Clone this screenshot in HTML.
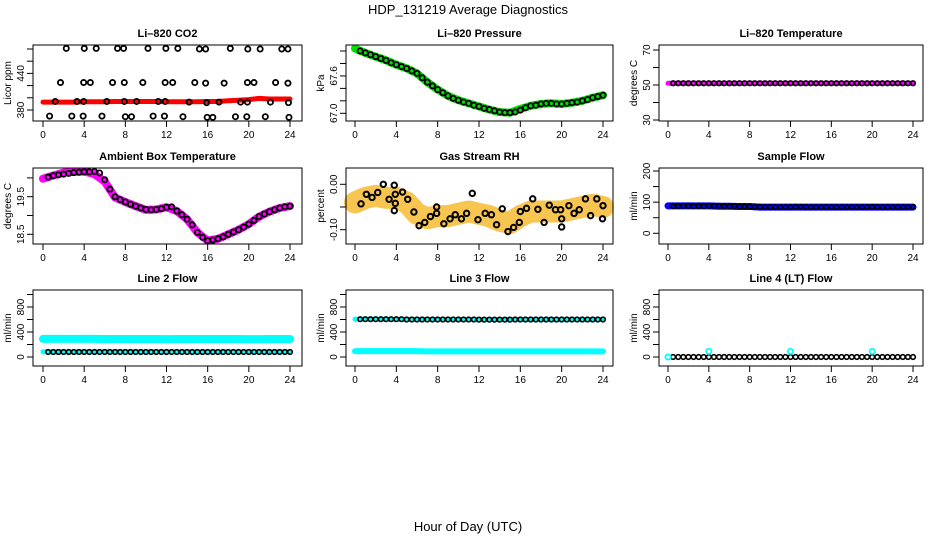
<!DOCTYPE html>
<html><head><meta charset="utf-8"><style>
html,body{margin:0;padding:0;background:#fff;}
svg{display:block;font-family:"Liberation Sans",Arial,sans-serif;}
</style></head><body>
<svg id="chart" width="936" height="540" viewBox="0 0 936 540">
<text x="468" y="14" font-size="13" text-anchor="middle">HDP_131219  Average Diagnostics</text>
<text x="468" y="531" font-size="13" text-anchor="middle">Hour of Day (UTC)</text>
<g id="plots"></g>
</svg>
<script>
// ---- data ----
const hourTicks = [0,4,8,12,16,20,24];
const hours = [0,1,2,3,4,5,6,7,8,9,10,11,12,13,14,15,16,17,18,19,20,21,22,23,24];
const halfHours = [0.5,1,1.5,2,2.5,3,3.5,4,4.5,5,5.5,6,6.5,7,7.5,8,8.5,9,9.5,10,10.5,11,11.5,12,12.5,13,13.5,14,14.5,15,15.5,16,16.5,17,17.5,18,18.5,19,19.5,20,20.5,21,21.5,22,22.5,23,23.5,24];

// CO2
const co2Red = [393,393,393,393,393.5,393.5,393.5,394,394,394,394,394,393.5,393.5,393.5,393.5,394,394,395,396,397,399,398,398,398];
const co2OutTimes = [2.26,4.01,5.17,7.24,7.83,10.2,11.94,13.1,15.2,15.8,18.2,19.9,21.1,23.2,23.8,
 1.7,3.95,4.6,6.76,7.9,9.7,11.87,12.6,14.75,15.8,17.6,19.86,20.5,22.6,23.8,
 1.19,3.3,3.95,6.2,7.9,9.1,11.2,11.87,14.2,15.9,17.1,19.2,19.86,22.1,23.85,
 0.64,2.8,3.9,5.73,8.0,8.6,10.7,11.8,13.6,15.95,16.5,18.7,19.8,21.6,23.9];
const co2OutValues = [481,481,481,481,481,481,481,481,480,480,481,480,480,480,480,
 425,425,425,425,425,425,425,425,425,424,424,425,425,425,424,
 394,394,394,394,394,394,394,394,393,392,393,393,393,393,392,
 370,370,370,370,369,369,370,370,369,368,368,369,369,369,368];
const co2Ticks = [380,400,420,440,460,480];
const co2Labels = ["380","440"];

// Pressure
const presGreen = [68.04,67.97,67.91,67.85,67.78,67.72,67.64,67.5,67.38,67.28,67.21,67.16,67.11,67.06,67.02,67.01,67.07,67.12,67.15,67.16,67.15,67.17,67.2,67.25,67.29];
const presBlack = [68.0,67.97,67.94,67.91,67.88,67.85,67.81,67.78,67.75,67.72,67.68,67.64,67.57,67.5,67.44,67.38,67.33,67.28,67.24,67.21,67.18,67.16,67.13,67.11,67.08,67.06,67.04,67.02,67.01,67.01,67.02,67.05,67.09,67.12,67.13,67.15,67.16,67.16,67.15,67.15,67.16,67.17,67.18,67.2,67.22,67.25,67.27,67.29];
const presTicks = [67.0,67.2,67.4,67.6,67.8,68.0];
const presLabels = ["67.0","67.6"];

// Li-820 temperature
const tempMagenta = [51,51,51,51,51,51,51,51,51,51,51,51,51,51,51,51,51,51,51,51,51,51,51,51,51];
const tempBlack = [51,51,51,51,51,51,51,51,51,51,51,51,51,51,51,51,51,51,51,51,51,51,51,51,51,51,51,51,51,51,51,51,51,51,51,51,51,51,51,51,51,51,51,51,51,51,51,51];
const tempTicks = [30,40,50,60,70];
const tempLabels = ["30","50","70"];

// Ambient box temperature
const ambMagenta = [19.98,20.06,20.14,20.16,20.17,20.1,19.9,19.48,19.36,19.25,19.15,19.16,19.22,19.12,18.9,18.55,18.33,18.38,18.5,18.62,18.77,18.97,19.1,19.2,19.25];
const ambBlack = [20.02,20.06,20.08,20.1,20.12,20.14,20.15,20.16,20.16,20.17,20.13,19.95,19.7,19.5,19.42,19.36,19.3,19.25,19.2,19.16,19.15,19.16,19.18,19.22,19.23,19.12,19.02,18.9,18.75,18.55,18.42,18.33,18.35,18.38,18.43,18.5,18.56,18.62,18.69,18.77,18.87,18.97,19.04,19.1,19.15,19.2,19.23,19.25];
const ambTicks = [18.5,19.0,19.5,20.0];
const ambLabels = ["18.5","19.5"];

// Gas stream RH
const rhBand = [-0.04,-0.03,-0.025,-0.03,-0.03,-0.04,-0.065,-0.075,-0.07,-0.07,-0.065,-0.06,-0.065,-0.07,-0.08,-0.085,-0.07,-0.06,-0.06,-0.06,-0.06,-0.055,-0.05,-0.045,-0.05];
const rhTimes = [0.58,1.1,1.65,2.2,2.74,3.3,3.8,3.9,3.9,3.8,4.6,5.1,5.7,6.2,6.75,7.3,7.9,7.9,8.6,9.2,9.7,10.3,10.8,11.35,11.9,12.6,13.2,13.7,14.25,14.8,15.35,15.9,16.0,16.6,17.2,17.7,18.3,18.8,19.4,19.9,20.0,20.0,20.7,21.2,21.7,22.3,22.8,23.4,24.0,23.95];
const rhValues = [-0.043,-0.022,-0.029,-0.018,0.0,-0.033,-0.002,-0.022,-0.042,-0.058,-0.017,-0.033,-0.061,-0.091,-0.084,-0.071,-0.05,-0.064,-0.087,-0.076,-0.067,-0.076,-0.064,-0.02,-0.078,-0.064,-0.067,-0.089,-0.054,-0.104,-0.095,-0.084,-0.06,-0.053,-0.032,-0.055,-0.084,-0.046,-0.056,-0.056,-0.076,-0.094,-0.047,-0.064,-0.056,-0.032,-0.069,-0.032,-0.047,-0.076];
const rhTicks = [-0.10,-0.05,0.00];
const rhLabels = ["-0.10","0.00"];

// Sample flow
const sfBlue = [88,88,88,88,88,87,87,86,86,84,84,84,84,84,84,84,84,84,84,84,84,84,84,84,84];
const sfBlack = [87,87,88,88,87,87,87,88,88,88,87,87,87,86,86,86,85,85,84,84,84,84,84,84,85,85,84,84,84,84,84,84,84,84,84,84,84,84,84,85,84,84,84,84,84,84,84,85];
const sfTicks = [0,50,100,150,200];
const sfLabels = ["0","100","200"];

// Flows (row 3)
const flowTicks = [0,200,400,600,800,1000];
const flowLabels = ["0","400","800"];
const l2CyanHigh = [290,290,290,290,290,290,288,288,288,288,288,288,286,288,288,288,288,288,288,288,286,286,288,288,288];
const l2CyanLow = [85,85,85,85,85,85,85,85,85,85,85,85,85,85,85,85,85,85,85,85,85,85,85,85,85];
const l2Black = [80,80,80,80,80,80,80,80,80,80,80,80,80,80,80,80,80,80,80,80,80,80,80,80,80,80,80,80,80,80,80,80,80,80,80,80,80,80,80,80,80,80,80,80,80,80,80,80];
const l3CyanHigh = [605,605,605,605,600,600,600,600,600,600,600,600,595,598,598,598,598,598,598,598,595,598,598,598,600];
const l3CyanLow = [95,95,95,95,95,95,95,90,90,90,90,90,90,90,90,90,90,90,90,90,90,90,90,90,90];
const l3Black = [605,605,605,605,605,605,605,605,605,600,600,600,600,600,600,600,600,600,600,600,600,600,600,598,598,598,598,598,598,598,600,600,600,600,600,600,600,600,600,600,600,600,600,600,600,600,600,600];
const l4Black = [0,0,0,0,0,0,0,0,0,0,0,0,0,0,0,0,0,0,0,0,0,0,0,0,0,0,0,0,0,0,0,0,0,0,0,0,0,0,0,0,0,0,0,0,0,0,0,0];
const l4CyanTimes = [0,4,12,20];
const l4CyanValues = [0,90,90,90];

// ---- layout ----
const NS = "http://www.w3.org/2000/svg";
const root = document.getElementById("plots");
const cols = [{x0:33,x1:302,h0:43,h24:290},{x0:346,x1:613,h0:355,h24:603},{x0:659,x1:923,h0:668,h24:913}];
const rows = [{y0:45,y1:121},{y0:168,y1:244},{y0:290,y1:366}];

function mk(tag, attrs, parent){const e=document.createElementNS(NS,tag);for(const k in attrs)e.setAttribute(k,attrs[k]);(parent||root).appendChild(e);return e;}

function makePanel(name,title,ylab,c,r,v1,p1,v2,p2,ticks,labels){
  const C=cols[c],R=rows[r];
  const g=mk("g",{});
  
  
  const xs=h=>C.h0+(h)*(C.h24-C.h0)/24;
  const ys=v=>p1+(v-v1)*(p2-p1)/(v2-v1);
  const t=mk("text",{x:(C.x0+C.x1)/2,y:R.y0-8,"font-size":11,"font-weight":"bold","text-anchor":"middle"},g);
  t.textContent=title;
  
  
  const yl=mk("text",{transform:`translate(${C.x0-22},${(R.y0+R.y1)/2}) rotate(-90)`,"font-size":10,"text-anchor":"middle"},g);
  yl.textContent=ylab;
  
  
  const plot=mk("g",{},g);
  
  
  const box=mk("rect",{x:C.x0,y:R.y0,width:C.x1-C.x0,height:R.y1-R.y0,fill:"none",stroke:"#000","stroke-width":1},g);
  
  
  const xa=mk("g",{},g);
  
  
  hourTicks.forEach(h=>{
    mk("line",{x1:xs(h),x2:xs(h),y1:R.y1,y2:R.y1+6,stroke:"#000"},xa);
    const tl=mk("text",{x:xs(h),y:R.y1+17,"font-size":10,"text-anchor":"middle"},xa);
    tl.textContent=h;
    
    
  });
  const ya=mk("g",{},g);
  
  
  ticks.forEach(v=>{mk("line",{x1:C.x0-6,x2:C.x0,y1:ys(v),y2:ys(v),stroke:"#000"},ya);});
  labels.forEach(v=>{
    const tl=mk("text",{transform:`translate(${C.x0-9},${ys(Number(v))}) rotate(-90)`,"font-size":10,"text-anchor":"middle"},ya);
    tl.textContent=v;
    
    
  });
  return {xs,ys,plot};
}
function band(P,times,vals,color,w,name){
  const d=times.map((h,i)=>(i?"L":"M")+P.xs(h).toFixed(1)+" "+P.ys(vals[i]).toFixed(1)).join(" ");
  const p=mk("path",{d,fill:"none",stroke:color,"stroke-width":w,"stroke-linejoin":"round","stroke-linecap":"round"},P.plot);
  
  
}
function pts(P,times,vals,color,name,rad,sw){
  times.forEach((h,i)=>{
    const c=mk("circle",{cx:P.xs(h),cy:P.ys(vals[i]),r:rad||2.6,fill:"none",stroke:color,"stroke-width":sw||1.8},P.plot);
    
    
  });
}

let P;
P=makePanel("co2","Li\u2013820 CO2","Licor ppm",0,0,380,110,480,49,co2Ticks,co2Labels);
band(P,hours,co2Red,"#f00",5,"co2-red-series");
pts(P,co2OutTimes,co2OutValues,"#000","co2-point");

P=makePanel("pressure","Li\u2013820 Pressure","kPa",1,0,67.0,113.3,68.0,51,presTicks,presLabels);
band(P,hours,presGreen,"#0d0",8,"pressure-green-series");
pts(P,halfHours,presBlack,"#000","pressure-point");

P=makePanel("li820-temp","Li\u2013820 Temperature","degrees C",2,0,30,120,70,50,tempTicks,tempLabels);
band(P,hours,tempMagenta,"#f0f",5,"temp-magenta-series");
pts(P,halfHours,tempBlack,"#000","temp-point",2.3,1.6);

P=makePanel("ambient","Ambient Box Temperature","degrees C",0,1,18.5,234.3,19.5,196.7,ambTicks,ambLabels);
band(P,hours,ambMagenta,"#f0f",8,"ambient-magenta-series");
pts(P,halfHours,ambBlack,"#000","ambient-point");

P=makePanel("rh","Gas Stream RH","percent",1,1,-0.10,229.7,0.0,184.3,rhTicks,rhLabels);
band(P,hours,rhBand,"#f8c550",22,"rh-band-series");
pts(P,rhTimes,rhValues,"#000","rh-point",2.7,2);

P=makePanel("sample-flow","Sample Flow","ml/min",2,1,0,233.3,200,171,sfTicks,sfLabels);
band(P,hours,sfBlue,"#00f",7,"sample-flow-blue-series");
pts(P,halfHours,sfBlack,"#000","sample-flow-point",2.3,1.6);

P=makePanel("line2","Line 2 Flow","ml/min",0,2,0,357,800,307,flowTicks,flowLabels);
band(P,hours,l2CyanHigh,"#0ff",8,"line2-cyan-high");
band(P,hours,l2CyanLow,"#0ff",5,"line2-cyan-low");
pts(P,halfHours,l2Black,"#000","line2-point",2.3,1.6);

P=makePanel("line3","Line 3 Flow","ml/min",1,2,0,357,800,307,flowTicks,flowLabels);
band(P,hours,l3CyanHigh,"#0ff",5,"line3-cyan-high");
band(P,hours,l3CyanLow,"#0ff",6,"line3-cyan-low");
pts(P,halfHours,l3Black,"#000","line3-point",2.3,1.6);

P=makePanel("line4","Line 4 (LT) Flow","ml/min",2,2,0,357,800,307,flowTicks,flowLabels);
pts(P,halfHours,l4Black,"#000","line4-point",2.3,1.6);
pts(P,l4CyanTimes,l4CyanValues,"#0ff","line4-cyan-point",2.6,1.8);
</script>
</body></html>
